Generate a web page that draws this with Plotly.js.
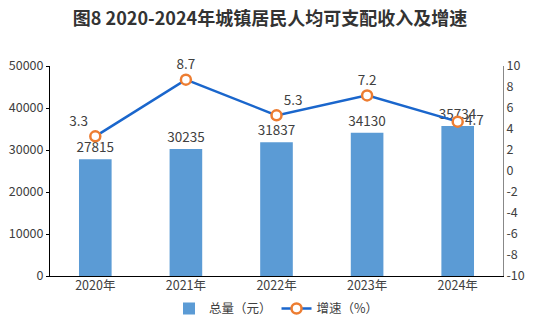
<!DOCTYPE html>
<html>
<head>
<meta charset="utf-8">
<script src="https://cdn.plot.ly/plotly-3.0.1.min.js"></script>
<style>html,body{margin:0;padding:0;background:#fff;}#chart{width:540px;height:332px;}</style>
</head>
<body>
<div id="chart"></div>
<script>
const years = ["2020年", "2021年", "2022年", "2023年", "2024年"];
const totals = [27815, 30235, 31837, 34130, 35734];
const growth = [3.3, 8.7, 5.3, 7.2, 4.7];
const growthLabelPos = ["top left", "top center", "top right", "top center", "middle right"];

const font = "'Noto Sans CJK SC', 'Microsoft YaHei', sans-serif";
const textColor = "#404040";

const traces = [
  {
    type: "bar",
    x: years,
    y: totals,
    name: "总量（元）",
    marker: {color: "#5B9BD5"},
    width: 0.36,
    text: totals.map(String),
    textposition: "outside",
    constraintext: "none",
    cliponaxis: false,
    textfont: {size: 13.5, color: textColor, family: font},
    hoverinfo: "skip"
  },
  {
    type: "scatter",
    mode: "lines+markers+text",
    x: years,
    y: growth,
    yaxis: "y2",
    name: "增速（%）",
    line: {color: "#1A66CC", width: 2.5},
    marker: {symbol: "circle", size: 10, color: "#ffffff", line: {color: "#ED7D31", width: 2.5}},
    text: growth.map(v => v.toFixed(1)),
    textposition: growthLabelPos,
    cliponaxis: false,
    textfont: {size: 13.5, color: textColor, family: font},
    hoverinfo: "skip"
  }
];

const layout = {
  width: 540,
  height: 332,
  margin: {l: 50, r: 37, t: 66, b: 56, autoexpand: false},
  paper_bgcolor: "#ffffff",
  plot_bgcolor: "#ffffff",
  font: {family: font, color: textColor, size: 12},
  title: {
    text: "<b>图8 2020-2024年城镇居民人均可支配收入及增速</b>",
    x: 0.5, xanchor: "center", y: 0.945, yanchor: "middle",
    font: {size: 18, color: "#333333", family: font}
  },
  showlegend: true,
  legend: {
    orientation: "h",
    x: 0.5, xanchor: "center",
    y: -0.085, yanchor: "top",
    bgcolor: "rgba(0,0,0,0)",
    font: {size: 12.5, color: textColor, family: font},
    itemwidth: 30,
    tracegroupgap: 0,
    traceorder: "normal"
  },
  xaxis: {
    type: "category",
    showline: true,
    linecolor: "#000000",
    linewidth: 1,
    ticks: "",
    ticklabelstandoff: -2,
    showgrid: false,
    zeroline: false,
    automargin: false,
    tickfont: {size: 12.5, color: textColor, family: font}
  },
  yaxis: {
    range: [0, 50000],
    tickvals: [0, 10000, 20000, 30000, 40000, 50000],
    ticktext: ["0", "10000", "20000", "30000", "40000", "50000"],
    showline: true,
    linecolor: "#000000",
    linewidth: 1,
    ticks: "outside",
    ticklen: 3,
    tickcolor: "#000000",
    showgrid: false,
    zeroline: false,
    automargin: false,
    tickfont: {size: 12.5, color: textColor, family: font}
  },
  yaxis2: {
    overlaying: "y",
    side: "right",
    range: [-10, 10],
    tickvals: [-10, -8, -6, -4, -2, 0, 2, 4, 6, 8, 10],
    ticktext: ["-10", "-8", "-6", "-4", "-2", "0", "2", "4", "6", "8", "10"],
    showline: true,
    linecolor: "#888888",
    linewidth: 1,
    ticks: "",
    showgrid: false,
    zeroline: false,
    automargin: false,
    tickfont: {size: 12.5, color: textColor, family: font}
  }
};

Plotly.newPlot("chart", traces, layout, {displayModeBar: false, staticPlot: true});
</script>
</body>
</html>
